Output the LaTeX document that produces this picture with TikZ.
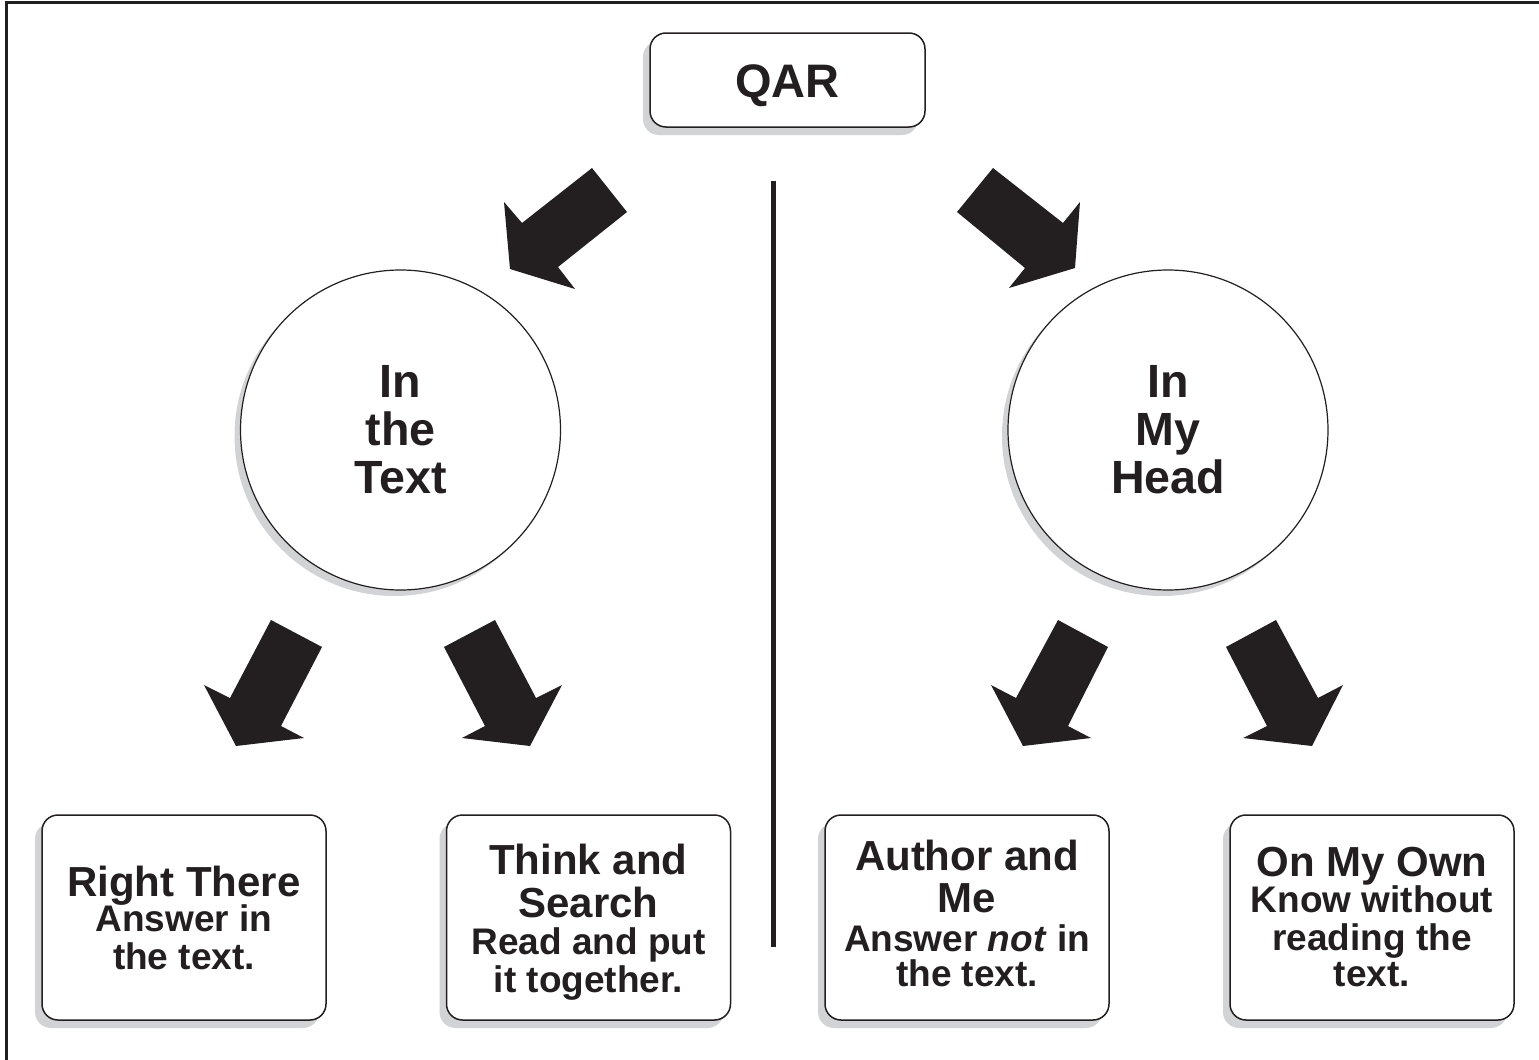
\documentclass[tikz,border=0pt]{standalone}
\usepackage{fontspec}
\setmainfont{Liberation Sans}
\usetikzlibrary{shadows}
\definecolor{ink}{HTML}{231F20}
\definecolor{shade}{HTML}{D1D3D4}
\newcommand\cardsub{\fontsize{18.5}{19}\selectfont}
\begin{document}
\begin{tikzpicture}[x=0.5pt,y=-0.5pt,
  softshadow/.style={drop shadow={shadow xshift=-3.5pt, shadow yshift=-4pt, fill=shade, opacity=1}},
  card/.style={draw=ink, line width=0.75pt, fill=white, rounded corners=8pt,
    minimum width=142pt, minimum height=102.5pt, softshadow},
  cardtext/.style={align=center, text=ink, inner sep=0pt,
    font=\bfseries\fontsize{21}{21.5}\selectfont},
  topcard/.style={draw=ink, line width=0.75pt, fill=white, rounded corners=8pt,
    minimum width=137.5pt, minimum height=47pt, text=ink, softshadow,
    font=\bfseries\fontsize{23.5}{24}\selectfont},
  bubble/.style={circle, draw=ink, line width=0.6pt, fill=white, minimum size=160pt,
    align=center, text=ink, font=\bfseries\fontsize{23.3}{24}\selectfont,
    drop shadow={shadow xshift=-3pt, shadow yshift=-3pt, fill=shade, opacity=1}},
  blockarrow/.style={fill=ink},
  divider/.style={draw=ink, line width=2.5pt},
  frame/.style={draw=ink, line width=1.5pt}]

  \useasboundingbox (0,0) rectangle (1539,1060);

  % outer frame (only top and left edges fall on the page)
  \coordinate (fbl) at (6.5,1075);
  \coordinate (ftl) at (6.5,2.5);
  \coordinate (ftr) at (1560,2.5);
  \draw[frame] (fbl) -- (ftl) -- (ftr);

  % title
  \node[topcard, text depth=0pt] (qar) at (787.5,80) {\raisebox{-1pt}{QAR}};

  % middle divider
  \coordinate (divtop) at (773.5,181);
  \coordinate (divbot) at (773.5,947);
  \draw[divider] (divtop) -- (divbot);

  % the two categories
  \node[bubble] (text) at (400.5,430) {In\\ the\\ Text};
  \node[bubble] (head) at (1168,430) {In\\ My\\ Head};

  % the four question types
  \node[card] (rt) at (184,917.5) {};
  \node[card] (ts) at (588.5,917.5) {};
  \node[card] (am) at (967,917.5) {};
  \node[card] (om) at (1372,917.5) {};

  \node[cardtext] (rttxt) at (rt.center)
    {Right There\\[-4pt] \cardsub Answer in\\[-2.5pt] \cardsub the text.};
  \node[cardtext] (tstxt) at ([yshift=-2.5pt]ts.center)
    {Think and\\ Search\\[-3pt] \cardsub Read and put\\[-2.5pt] \cardsub it together.};
  \node[cardtext] (amtxt) at ([yshift=2.25pt]am.center)
    {Author and\\[-0.5pt] Me\\[-2pt] \cardsub Answer \textit{not} in\\[-4pt] \cardsub the text.};
  \node[cardtext] (omtxt) at (om.center)
    {On My Own\\[-3.5pt] \cardsub Know without\\[-2.5pt] \cardsub reading the\\[-3.5pt] \cardsub text.};

  % block arrows: title to categories
  \fill[blockarrow] (592,168) -- (627,212) -- (558,267) -- (575,289) -- (510,269)
    -- (504,202) -- (522,223) -- cycle;
  \fill[blockarrow] (993,168) -- (957,212) -- (1025,268) -- (1009,288) -- (1075,268)
    -- (1080,202) -- (1063,223) -- cycle;

  % block arrows: "In the Text" to its types
  \fill[blockarrow] (271,620) -- (322,647) -- (281,726) -- (304,738) -- (236,746)
    -- (204,685) -- (230,698) -- cycle;
  \fill[blockarrow] (495,620) -- (444,647) -- (485,726) -- (462,738) -- (530,746)
    -- (562,685) -- (536,698) -- cycle;

  % block arrows: "In My Head" to its types
  \fill[blockarrow] (1058,620) -- (1108,647) -- (1068,726) -- (1091,738) -- (1023,746)
    -- (991,685) -- (1016,698) -- cycle;
  \fill[blockarrow] (1276,620) -- (1226,647) -- (1267,726) -- (1243,738) -- (1312,746)
    -- (1343,685) -- (1318,698) -- cycle;
\end{tikzpicture}
\end{document}
